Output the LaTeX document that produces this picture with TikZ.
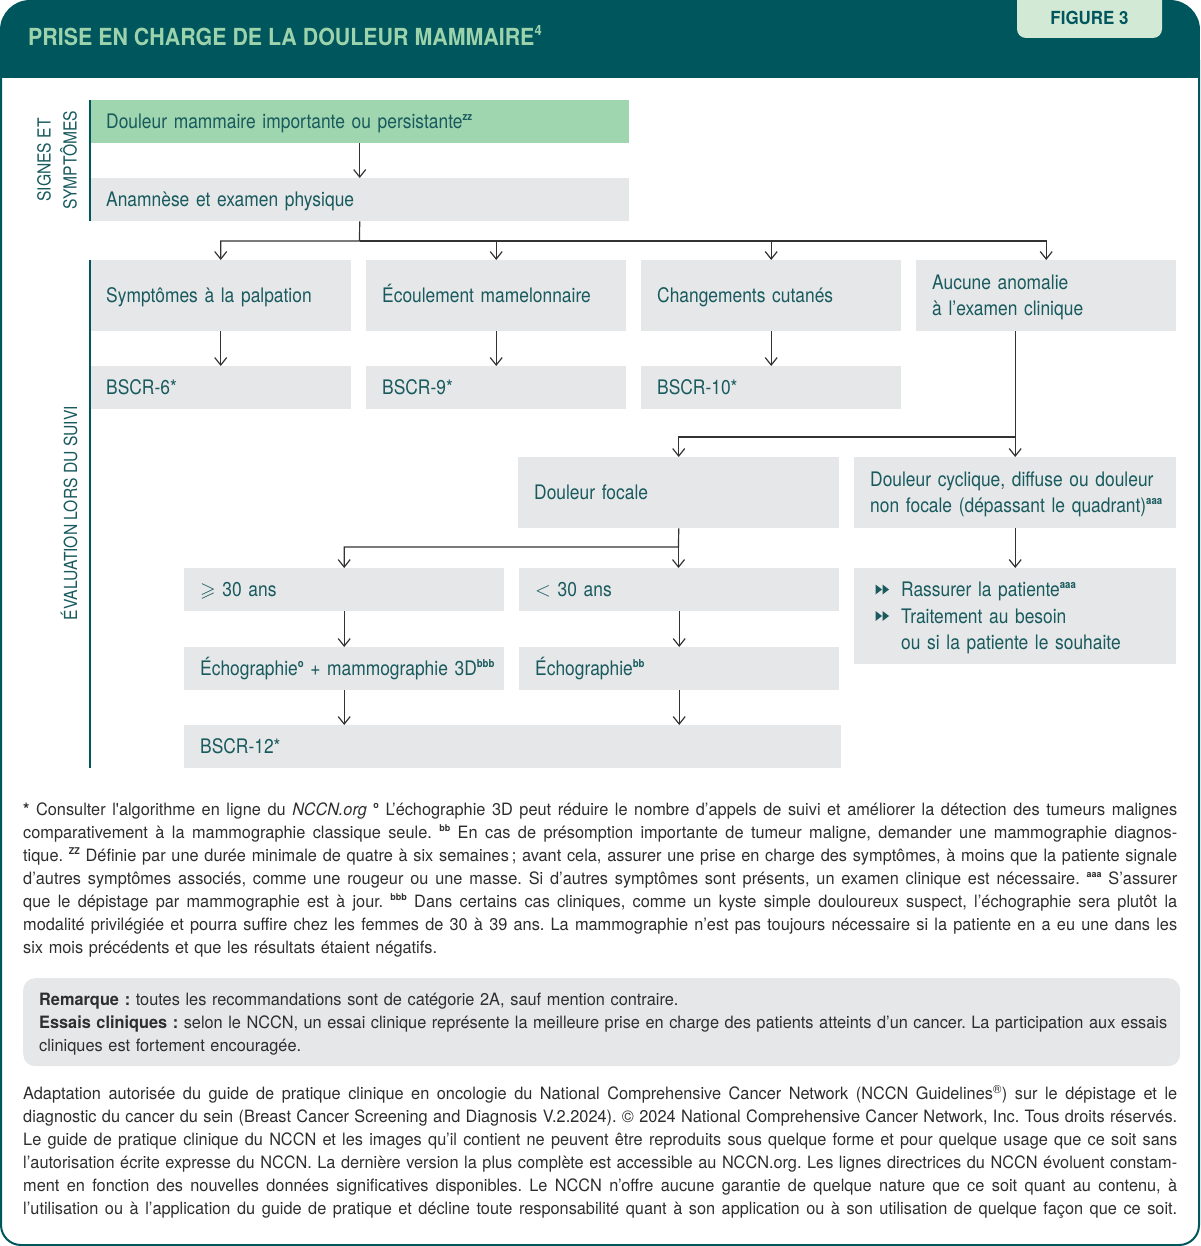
\documentclass[tikz,border=0pt]{standalone}
\usepackage{amssymb}
\usepackage{graphicx}
\usepackage{fontspec}
\setmainfont{TeX Gyre Heros}[FakeStretch=0.87]
\newfontfamily\titlefam{TeX Gyre Heros}[FakeStretch=0.91]
\newfontfamily\tabfam{TeX Gyre Heros}[FakeStretch=0.94]
\newfontfamily\notefam{TeX Gyre Heros}[FakeStretch=0.96]
\usetikzlibrary{arrows.meta}
\definecolor{hdr}{HTML}{00565D}
\definecolor{titlegreen}{HTML}{9DD3AC}
\definecolor{tabgreen}{HTML}{D2E9D6}
\definecolor{greenbox}{HTML}{9FD5AF}
\definecolor{boxgray}{HTML}{E6E7E8}
\definecolor{boxtext}{HTML}{185A5E}
\definecolor{arrowc}{HTML}{333333}
\definecolor{notec}{HTML}{2E2E2E}
\frenchspacing
\newcommand\fsup[1]{\raisebox{0.42em}{\scalebox{0.55}{\bfseries #1}}}
\newcommand\boxfont{\fontsize{20}{26.5}\selectfont}
\newcommand\notefont{\notefam\fontsize{17}{23}\selectfont}
\newcommand\lblfont{\fontsize{18}{26}\selectfont}
\newcommand\ttlfont{\titlefam\bfseries\fontsize{23.5}{28}\selectfont}
\newcommand\tabfont{\tabfam\bfseries\fontsize{18}{20}\selectfont}
\newcommand\fl[2]{\strut\hbox to #1{\spaceskip=\fontdimen2\font plus 1fil\relax\xspaceskip=\spaceskip #2}}
\newcommand\ind{\hspace*{31pt}}
\begin{document}
\begin{tikzpicture}[x=1pt,y=-1pt,
  box/.style={fill=boxgray, text=boxtext, font=\boxfont, inner xsep=16pt, inner ysep=0pt,
    anchor=north west, align=left, text height=16pt, text depth=2pt},
  two/.style={text depth=28.5pt},
  three/.style={text depth=55pt},
  arr/.style={draw=arrowc, line width=1.2pt, -{Straight Barb[length=7.5pt,width=12pt]}},
  side/.style={draw=hdr, line width=1.5pt},
  lbl/.style={text=boxtext, font=\lblfont, align=center, rotate=90, inner sep=0pt},
  note/.style={text=notec, font=\notefont, anchor=north west, inner sep=0pt, align=left}
]
\useasboundingbox (0,0) rectangle (1200,1246);
% frame and header
\draw[hdr, line width=2pt, rounded corners=20pt] (1,60) -- (1,1245) -- (1199,1245) -- (1199,60);
\begin{scope}
  \clip[rounded corners=30pt] (0,0) rectangle (1200,1246);
  \fill[hdr] (0,0) rectangle (1200,78);
  \fill[tabgreen, rounded corners=9pt] (1017,-20) rectangle (1162,38);
\end{scope}
\node[anchor=base west, text=titlegreen, font=\ttlfont, inner sep=0pt] (title) at (28,46)
  {PRISE EN CHARGE DE LA DOULEUR MAMMAIRE\raisebox{0.45em}{\scalebox{0.6}{4}}};
\node[text=hdr, font=\tabfont, inner sep=0pt] (fig) at (1089.5,18) {FIGURE 3};

% section labels
\node[lbl] (sig) at (57,160) {SIGNES ET\\SYMPTÔMES};
\node[lbl] (eval) at (69,513) {ÉVALUATION LORS DU SUIVI};

% boxes
\node[box, fill=greenbox, minimum width=539pt, text width=507pt, minimum height=43pt] (main) at (90,100)
  {Douleur mammaire importante ou persistante\fsup{zz}};
\node[box, minimum width=539pt, text width=507pt, minimum height=43pt] (ana) at (90,178)
  {Anamnèse et examen physique};
\node[box, minimum width=261pt, text width=229pt, minimum height=71pt] (palp) at (90,260)
  {Symptômes à la palpation};
\node[box, minimum width=260pt, text width=228pt, minimum height=71pt] (ecou) at (366,260)
  {Écoulement mamelonnaire};
\node[box, minimum width=260pt, text width=228pt, minimum height=71pt] (cut) at (641,260)
  {Changements cutanés};
\node[box, two, minimum width=260pt, text width=228pt, minimum height=71pt] (auc) at (916,260)
  {Aucune anomalie\\à l’examen clinique};
\node[box, minimum width=261pt, text width=229pt, minimum height=43pt] (b6) at (90,366) {BSCR-6*};
\node[box, minimum width=260pt, text width=228pt, minimum height=43pt] (b9) at (366,366) {BSCR-9*};
\node[box, minimum width=260pt, text width=228pt, minimum height=43pt] (b10) at (641,366) {BSCR-10*};
\node[box, minimum width=321pt, text width=289pt, minimum height=71pt] (foc) at (518,457)
  {Douleur focale};
\node[box, two, minimum width=322pt, text width=290pt, minimum height=71pt] (cyc) at (854,457)
  {\mbox{Douleur cyclique, diffuse ou douleur}\\\mbox{non focale (dépassant le quadrant)\fsup{aaa}}};
\node[box, minimum width=320pt, text width=288pt, minimum height=43pt] (ge) at (184,568)
  {$\geqslant$ 30 ans};
\node[box, minimum width=320pt, text width=288pt, minimum height=43pt] (lt) at (519,568)
  {$<$ 30 ans};
\node[box, three, minimum width=322pt, text width=290pt, minimum height=96pt] (rass) at (854,568)
  {\ind Rassurer la patiente\fsup{aaa}\\\ind Traitement au besoin\\\ind ou si la patiente le souhaite};
\node[box, minimum width=320pt, text width=288pt, minimum height=43pt] (ech1) at (184,647)
  {\mbox{Échographie\fsup{o} + mammographie 3D\fsup{bbb}}};
\node[box, minimum width=320pt, text width=288pt, minimum height=43pt] (ech2) at (519,647)
  {Échographie\fsup{bb}};
\node[box, minimum width=657pt, text width=625pt, minimum height=43pt] (b12) at (184,725) {BSCR-12*};

% bullets
\foreach \yy in {589.5,616} {
  \fill[boxtext] (875.5,\yy-5) -- (882,\yy) -- (875.5,\yy+5) -- cycle;
  \fill[boxtext] (882.5,\yy-5) -- (889,\yy) -- (882.5,\yy+5) -- cycle;
}

% side lines
\draw[side] (90,100) -- (90,221);
\draw[side] (90,260) -- (90,768);

% connectors
\coordinate (j1) at (359.5,241);
\coordinate (j2) at (1015,437);
\coordinate (j3) at (678.5,547);
\draw[arr] (main.south) -- (ana.north);
\draw[arr] (ana.south) -- (j1) -| (palp.north);
\draw[arr] (j1) -| (ecou.north);
\draw[arr] (j1) -| (cut.north);
\draw[arr] (j1) -| (auc.north);
\draw[arr] (palp.south) -- (b6.north);
\draw[arr] (ecou.south) -- (b9.north);
\draw[arr] (cut.south) -- (b10.north);
\draw[arr] (auc.south -| cyc.north) -- (cyc.north);
\draw[arr] (j2) -| (foc.north);
\draw[arr] (foc.south) -- (j3) -| (ge.north);
\draw[arr] (j3) -- (j3 |- lt.north);
\draw[arr] (cyc.south) -- (rass.north);
\draw[arr] (ge.south) -- (ech1.north);
\draw[arr] (lt.south -| ech2.north) -- (ech2.north);
\draw[arr] (ech1.south) -- (ech1.south |- b12.north);
\draw[arr] (ech2.south) -- (ech2.south |- b12.north);

% footnotes
\node[note, text width=1154pt] (fn) at (23,799.4) {%
\fl{1154pt}{{\bfseries *} Consulter l'algorithme en ligne du \textit{NCCN.org} \fsup{o} L’échographie 3D peut réduire le nombre d’appels de suivi et améliorer la détection des tumeurs malignes}\\
\fl{1154pt}{comparativement à la mammographie classique seule. \fsup{bb} En cas de présomption importante de tumeur maligne, demander une mammographie diagnos-}\\
\fl{1154pt}{tique. \fsup{ZZ} Définie par une durée minimale de quatre à six semaines\,; avant cela, assurer une prise en charge des symptômes, à moins que la patiente signale}\\
\fl{1154pt}{d’autres symptômes associés, comme une rougeur ou une masse. Si d’autres symptômes sont présents, un examen clinique est nécessaire. \fsup{aaa} S’assurer}\\
\fl{1154pt}{que le dépistage par mammographie est à jour. \fsup{bbb} Dans certains cas cliniques, comme un kyste simple douloureux suspect, l’échographie sera plutôt la}\\
\fl{1154pt}{modalité privilégiée et pourra suffire chez les femmes de 30 à 39 ans. La mammographie n’est pas toujours nécessaire si la patiente en a eu une dans les}\\
\strut six mois précédents et que les résultats étaient négatifs.};

% remarque box
\node[fill=boxgray, rounded corners=12pt, minimum width=1157pt, minimum height=88pt, anchor=north west, inner sep=0pt] (rem) at (23,978) {};
\node[note, text width=1128pt] (remtxt) at (39,989.4) {%
\strut{\bfseries Remarque :} toutes les recommandations sont de catégorie 2A, sauf mention contraire.\\
\fl{1128pt}{{\bfseries Essais cliniques :} selon le NCCN, un essai clinique représente la meilleure prise en charge des patients atteints d’un cancer. La participation aux essais}\\
\strut cliniques est fortement encouragée.};

% adaptation
\node[note, text width=1154pt] (adapt) at (23,1083.4) {%
\fl{1154pt}{Adaptation autorisée du guide de pratique clinique en oncologie du National Comprehensive Cancer Network (NCCN Guidelines\textsuperscript{®}) sur le dépistage et le}\\
\fl{1154pt}{diagnostic du cancer du sein (Breast Cancer Screening and Diagnosis V.2.2024). © 2024 National Comprehensive Cancer Network, Inc. Tous droits réservés.}\\
\fl{1154pt}{Le guide de pratique clinique du NCCN et les images qu’il contient ne peuvent être reproduits sous quelque forme et pour quelque usage que ce soit sans}\\
\fl{1154pt}{l’autorisation écrite expresse du NCCN. La dernière version la plus complète est accessible au NCCN.org. Les lignes directrices du NCCN évoluent constam-}\\
\fl{1154pt}{ment en fonction des nouvelles données significatives disponibles. Le NCCN n’offre aucune garantie de quelque nature que ce soit quant au contenu, à}\\
\fl{1154pt}{l’utilisation ou à l’application du guide de pratique et décline toute responsabilité quant à son application ou à son utilisation de quelque façon que ce soit.}};
\end{tikzpicture}
\end{document}
